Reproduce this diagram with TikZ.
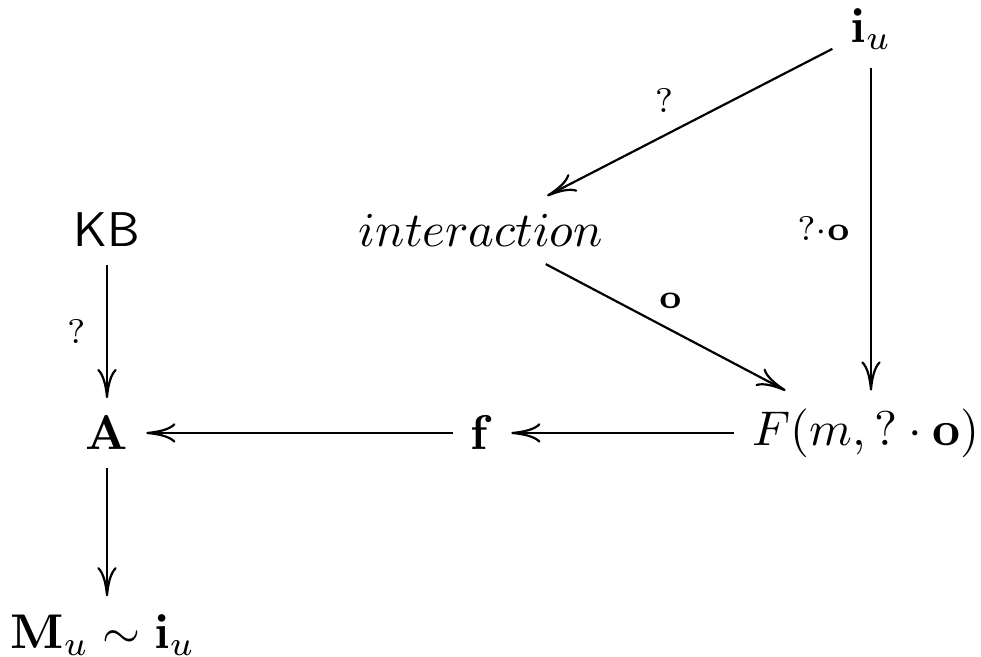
\documentclass[tikz,border=0pt]{standalone}
\usetikzlibrary{arrows.meta}
\begin{document}
\begin{tikzpicture}[
  x=0.205pt,
  y=0.205pt,
  line join=round,
  obj/.style={inner sep=3.5pt},
  map/.style={draw=black,line width=0.45pt,
    -{Computer Modern Rightarrow[length=6pt,width=4pt]}},
  lbl/.style={font=\scriptsize,inner sep=2.2pt}
]
  \useasboundingbox (0,0) rectangle (981,657);

  % Objects, row by row.
  \node[obj] (iu) at (871,628) {$\mathbf{i}_u$};
  \node[obj] (kb) at (107,427) {\textsf{KB}};
  \node[obj] (inter) at (481,427) {$interaction$};
  \node[obj] (A) at (107,224) {$\mathbf{A}$};
  \node[obj] (f) at (482,224) {$\mathbf{f}$};
  \node[obj] (F) at (866,224) {$F(m,?\cdot\mathbf{o})$};
  \node[obj] (M) at (103,22) {$\mathbf{M}_u\sim\mathbf{i}_u$};

  % Maps from the input.
  \draw[map] (iu) -- node[lbl,pos=0.59,above=2.4pt] {$?$} (inter);
  \draw[map] (iu) -- node[lbl,left=2pt] {$?{\cdot}\mathbf{o}$} (iu |- F.north);
  \draw[map] (inter) -- node[lbl,pos=0.52,above=2pt] {$\mathbf{o}$} (F);

  % Bottom row and the knowledge base.
  \draw[map] (F) -- (f);
  \draw[map] (f) -- (A);
  \draw[map] (kb) -- node[lbl,left=2pt] {$?$} (A);
  \draw[map] (A) -- (A |- M.north);
\end{tikzpicture}
\end{document}
